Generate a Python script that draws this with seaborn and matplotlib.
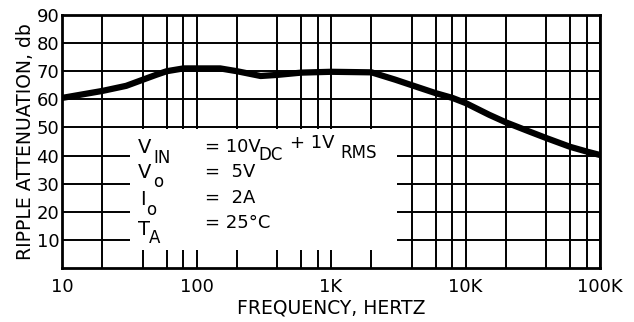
import matplotlib
matplotlib.use('Agg')
import matplotlib.pyplot as plt
import seaborn as sns
import pandas as pd
from matplotlib.patches import Rectangle

freq_hz = [10, 20, 30, 40, 50, 60, 80, 100, 150, 200, 300, 400, 600, 1000, 2000,
           3000, 4000, 6000, 8000, 10000, 15000, 20000, 30000, 40000, 60000, 80000, 100000]
atten_db = [60.5, 63, 64.8, 67, 68.7, 70, 71, 71, 71, 70, 68.3, 68.7, 69.5, 69.8, 69.6,
            67, 65, 62.2, 60.5, 58.7, 54.5, 51.8, 48.5, 46.2, 43.1, 41.4, 40.2]
x_major = [10, 100, 1000, 10000, 100000]
x_labels = ['10', '100', '1K', '10K', '100K']
x_grid = [20, 40, 60, 80, 200, 400, 600, 800, 2000, 4000, 6000, 8000,
          20000, 40000, 60000, 80000]
y_ticks = [10, 20, 30, 40, 50, 60, 70, 80, 90]

sns.set_style('white')
plt.rcParams['font.family'] = ['DejaVu Sans']
plt.rcParams['text.color'] = 'black'
plt.rcParams['axes.labelcolor'] = 'black'

W, H = 634, 322
fig = plt.figure(figsize=(W / 100, H / 100), dpi=100)
ax = fig.add_axes([62 / W, 1 - 268 / H, (600 - 62) / W, (268 - 15) / H])

df = pd.DataFrame({'freq': freq_hz, 'db': atten_db})
sns.lineplot(data=df, x='freq', y='db', ax=ax, color='black', linewidth=4.5,
             zorder=4, solid_capstyle='butt')

ax.set_xscale('log')
ax.set_xlim(10, 100000)
ax.set_ylim(0, 90)
ax.set_xticks(x_major)
ax.set_xticklabels(x_labels)
ax.set_xticks(x_grid, minor=True)
ax.set_xticklabels([], minor=True)
ax.set_yticks(y_ticks)
ax.set_yticklabels([str(v) for v in y_ticks])
ax.tick_params(axis='both', which='both', length=0, labelsize=13, colors='black')
ax.tick_params(axis='x', pad=7)
ax.tick_params(axis='y', pad=2)
ax.set_axisbelow(True)
ax.grid(True, which='both', color='black', linewidth=1.4)
for s in ax.spines.values():
    s.set_color('black')
    s.set_linewidth(2)

# blank area behind the condition text
ax.add_patch(Rectangle((32, 6.4), 3100 - 32, 49.5 - 6.4, facecolor='white',
                       edgecolor='none', zorder=1))

ax.set_xlabel('FREQUENCY, HERTZ', fontsize=13.5, labelpad=2)
ax.set_ylabel('RIPPLE ATTENUATION, db', fontsize=13.5, labelpad=1)


def put(x, y, s, size=14, **kw):
    fig.text(x / W, 1 - y / H, s, fontsize=size, ha='left', va='baseline', **kw)


put(138, 153, 'V')
put(153, 163, 'IN', 12)
put(205, 152, '= 10V', 13)
put(258, 160, 'DC', 12)
put(290, 148, '+ 1V', 13)
put(340, 158, 'RMS', 12)
put(138, 178, 'V')
put(153, 187, 'o', 12)
put(205, 177, '=  5V', 13)
put(140, 205, 'I')
put(146, 215, 'o', 12)
put(205, 203, '=  2A', 13)
put(138, 235, 'T')
put(149, 243, 'A', 12)
put(205, 228, '= 25°C', 13)

fig.savefig('out.png', dpi=100)
